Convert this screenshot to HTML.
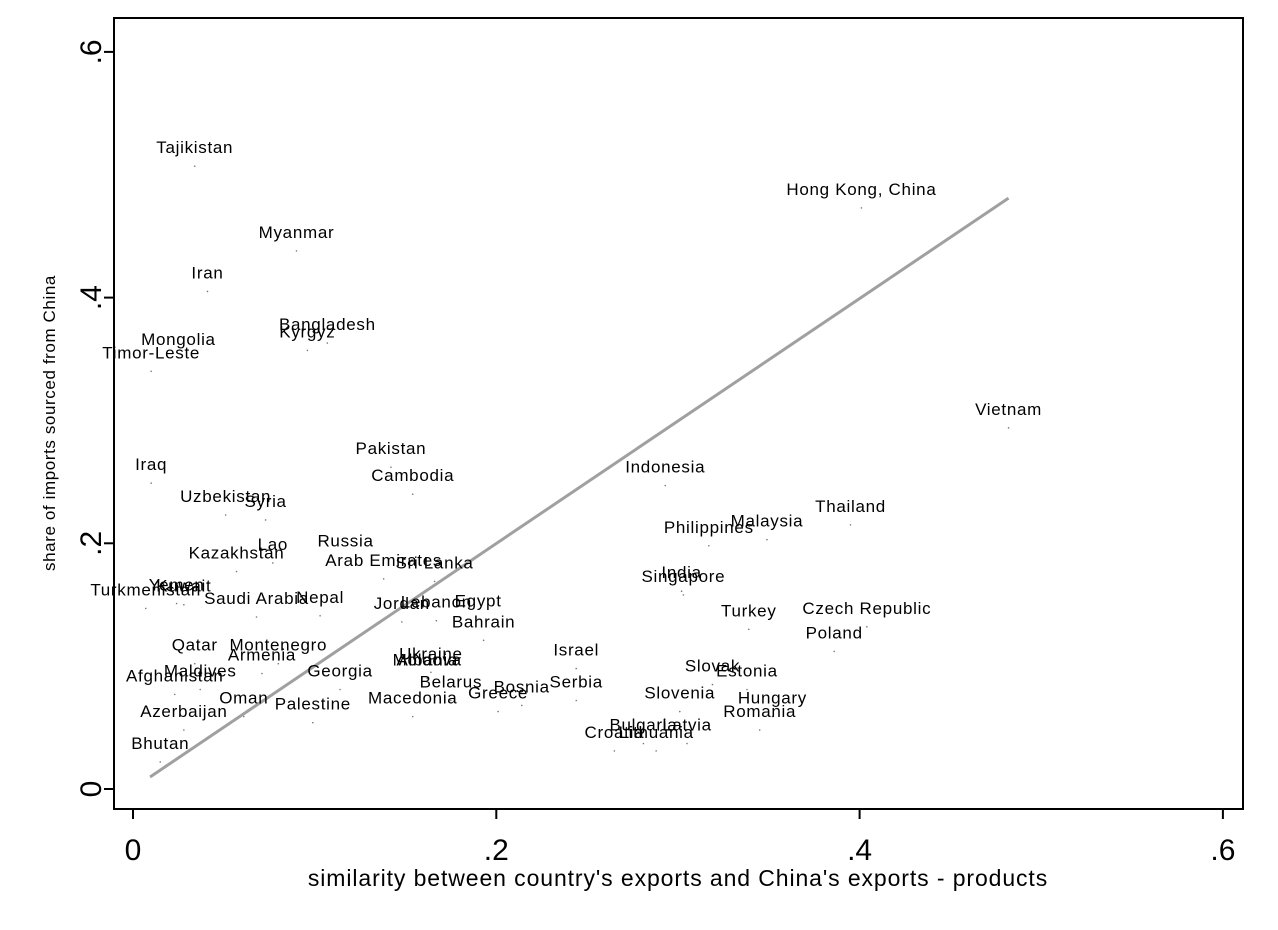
<!DOCTYPE html>
<html><head><meta charset="utf-8"><style>
body{margin:0;background:#fff;}
svg{display:block;font-family:"Liberation Sans",Arial,sans-serif;}
</style></head><body>
<svg id="chart" width="1278" height="930" viewBox="0 0 1278 930">
<rect x="0" y="0" width="1278" height="930" fill="#fff"/>
<rect x="114" y="18" width="1129" height="791" fill="none" stroke="#000" stroke-width="2"/>
<g id="axes"></g>
<line id="fit" stroke="#a0a0a0" stroke-width="3"/>
<g id="pts"></g>
<text x="678" y="886" font-size="23" letter-spacing="0.9" text-anchor="middle">similarity between country's exports and China's exports - products</text>
<text transform="translate(55,423) rotate(-90)" font-size="17" letter-spacing="0.6" text-anchor="middle">share of imports sourced from China</text>
</svg>
<script>
const names=["Tajikistan","Hong Kong, China","Myanmar","Iran","Bangladesh","Kyrgyz","Mongolia","Timor-Leste","Vietnam","Pakistan","Cambodia","Indonesia","Iraq","Uzbekistan","Syria","Thailand","Malaysia","Philippines","Russia","Lao","Kazakhstan","Arab Emirates","Sri Lanka","India","Singapore","Turkmenistan","Yemen","Kuwait","Saudi Arabia","Nepal","Jordan","Lebanon","Egypt","Turkey","Czech Republic","Bahrain","Poland","Qatar","Montenegro","Israel","Armenia","Ukraine","Moldova","Albania","Slovak","Estonia","Maldives","Georgia","Afghanistan","Belarus","Serbia","Bosnia","Greece","Slovenia","Hungary","Oman","Macedonia","Palestine","Azerbaijan","Romania","Bulgaria","Latvia","Croatia","Lithuania","Bhutan"];
const simX=[0.034,0.401,0.090,0.041,0.107,0.096,0.025,0.010,0.482,0.142,0.154,0.293,0.010,0.051,0.073,0.395,0.349,0.317,0.117,0.077,0.057,0.138,0.166,0.302,0.303,0.007,0.024,0.028,0.068,0.103,0.148,0.167,0.190,0.339,0.404,0.193,0.386,0.034,0.080,0.244,0.071,0.164,0.162,0.162,0.319,0.338,0.037,0.114,0.023,0.175,0.244,0.214,0.201,0.301,0.352,0.061,0.154,0.099,0.028,0.345,0.281,0.305,0.265,0.288,0.015];
const shareY=[0.507,0.473,0.438,0.405,0.363,0.357,0.351,0.340,0.294,0.262,0.240,0.247,0.249,0.223,0.219,0.215,0.203,0.198,0.187,0.184,0.177,0.171,0.169,0.161,0.158,0.147,0.151,0.150,0.140,0.141,0.136,0.137,0.138,0.130,0.132,0.121,0.112,0.102,0.102,0.098,0.094,0.095,0.090,0.090,0.085,0.081,0.081,0.081,0.077,0.072,0.072,0.068,0.063,0.063,0.059,0.059,0.059,0.054,0.048,0.048,0.037,0.037,0.031,0.031,0.022];
const fitX=[0.0094,0.482];
const fitY=[0.0098,0.481];
const xTicks=[0,0.2,0.4,0.6];
const xTickLabels=["0",".2",".4",".6"];
const yTicks=[0,0.2,0.4,0.6];
const yTickLabels=["0",".2",".4",".6"];
const NS="http://www.w3.org/2000/svg";
const sx=v=>133+v*1816.5;
const sy=v=>789-v*1228.5;
const axes=document.getElementById('axes');
function mk(tag,attrs,parent){const e=document.createElementNS(NS,tag);for(const k in attrs)e.setAttribute(k,attrs[k]);parent.appendChild(e);return e;}
xTicks.forEach((t,i)=>{
  const l=mk('line',{x1:sx(t),x2:sx(t),y1:809,y2:819,stroke:'#000','stroke-width':2},axes);
  
  
  const tx=mk('text',{x:sx(t),y:860,'font-size':30,'text-anchor':'middle'},axes);
  tx.textContent=xTickLabels[i];
  
  
});
yTicks.forEach((t,i)=>{
  const l=mk('line',{x1:104,x2:114,y1:sy(t),y2:sy(t),stroke:'#000','stroke-width':2},axes);
  
  
  const tx=mk('text',{transform:`translate(101,${sy(t)}) rotate(-90)`,'font-size':30,'text-anchor':'middle'},axes);
  tx.textContent=yTickLabels[i];
  
  
});
const fit=document.getElementById('fit');
fit.setAttribute('x1',sx(fitX[0]));fit.setAttribute('y1',sy(fitY[0]));
fit.setAttribute('x2',sx(fitX[1]));fit.setAttribute('y2',sy(fitY[1]));
const pts=document.getElementById('pts');
names.forEach((n,i)=>{
  const x=sx(simX[i]),y=sy(shareY[i]);
  const c=mk('circle',{cx:x,cy:y,r:0.8,fill:'#777'},pts);
  
  
  const t=mk('text',{x:x,y:y-13,'font-size':17,'letter-spacing':0.7,'text-anchor':'middle'},pts);
  t.textContent=n;
  
  
});
</script>
</body></html>
